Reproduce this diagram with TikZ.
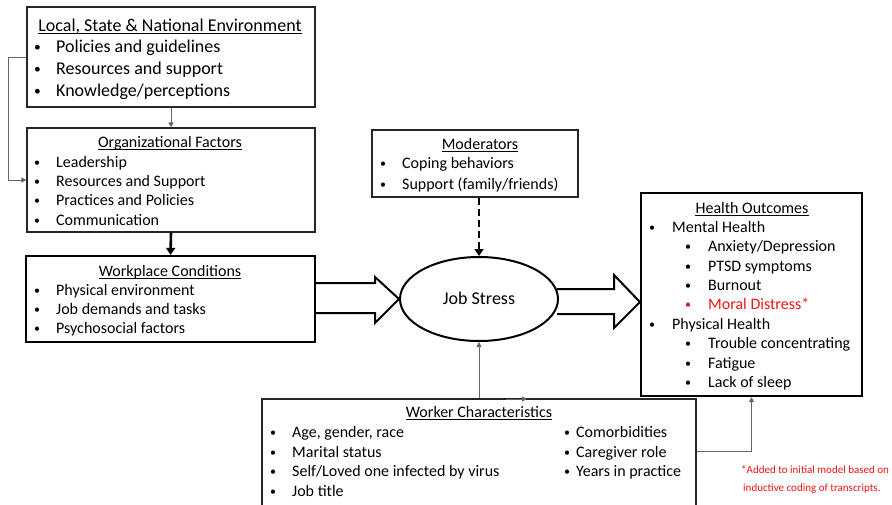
\documentclass[tikz,border=0pt]{standalone}
\usepackage{fontspec}
\setmainfont{Carlito}
\usetikzlibrary{arrows.meta,shapes.geometric}
\definecolor{noteRed}{RGB}{240,20,20}
\tikzset{
 f18/.style={font=\fontsize{18}{20}\selectfont,text height=12.6pt,text depth=1.8pt},
 f16/.style={font=\fontsize{16}{18}\selectfont,text height=11.2pt,text depth=1.6pt},
 f11/.style={font=\fontsize{11}{13}\selectfont,text height=7.7pt,text depth=1.1pt},
 lbl/.style={inner sep=0pt,anchor=west,yshift=-0.8pt},
 ttl/.style={inner sep=0pt,anchor=center,yshift=-0.8pt},
 uline/.style={draw=black,line width=0.9pt},
 thinbox/.style={draw=black!85,line width=1.1pt,inner sep=0pt},
 thickbox/.style={draw=black,line width=2.2pt,inner sep=0pt},
 conn/.style={draw=black!60,line width=0.9pt,-{Triangle[length=5pt,width=5pt]}},
 boldconn/.style={draw=black,line width=2.6pt,-{Triangle[length=7pt,width=9pt]}},
 blockarrow/.style={draw=black,line width=2pt,line join=miter},
}
\newcommand\bdot{\raisebox{0.06em}{\scalebox{0.75}{\textbullet}}}
\newcommand\bl[6]{%
 \node[lbl,#2] (#1b) at (#3,#5) {\bdot};
 \node[lbl,#2] (#1) at (#4,#5) {#6};}
\begin{document}
\begin{tikzpicture}[x=1pt,y=-1pt]
\useasboundingbox (0,0) rectangle (892,504);
\clip (0,0) rectangle (892,504);

% boxes
\node[thinbox,minimum width=288pt,minimum height=100pt] (env) at (171,57) {};
\node[thinbox,minimum width=288pt,minimum height=104pt] (org) at (171,180) {};
\node[thickbox,minimum width=289pt,minimum height=86pt] (work) at (170.5,299) {};
\node[thinbox,minimum width=206pt,minimum height=67pt] (mod) at (475,163.5) {};
\node[draw,line width=2pt,ellipse,minimum width=158pt,minimum height=84pt,inner sep=0pt,f18] (js) at (479,299) {Job Stress};
\node[thickbox,minimum width=221pt,minimum height=203pt] (health) at (751.5,294.5) {};
\node[thinbox,minimum width=434pt,minimum height=131pt] (worker) at (479,464.5) {};

% block arrows
\draw[blockarrow] (work.east |- 0,283) -- (375,283) -- (375,277) -- (js.west) -- (375,323) -- (375,313) -- (work.east |- 0,313);
\draw[blockarrow] (557,289) -- (614,289) -- (614,275) -- (health.west |- 0,302) -- (614,328) -- (614,314) -- (557,314);

% connectors
\draw[conn] (env.south) -- (org.north);
\draw[conn] (env.west) -- ++(-18,0) |- (org.west);
\draw[boldconn] (org.south) -- (work.north);
\draw[boldconn,dash pattern=on 7pt off 4pt] (mod.south -| js.north) -- (js.north);
\draw[conn] (worker.north -| js.south) -- (js.south);
\draw[conn] (worker.east |- 0,451) -| (health.south);
\coordinate (wk) at (506,399);
\draw[conn] (wk) -- (527,399);

% env text
\node[ttl,f18] (envt) at (170,25) {Local, State \& National Environment};
\draw[uline] (envt.south west) -- (envt.south east);
\bl{e1}{f18}{34}{56}{46}{Policies and guidelines}
\bl{e2}{f18}{34}{56}{68}{Resources and support}
\bl{e3}{f18}{34}{56}{90}{Knowledge/perceptions}

% org text
\node[ttl,f16] (orgt) at (170,142) {Organizational Factors};
\draw[uline] (orgt.south west) -- (orgt.south east);
\bl{o1}{f16}{34}{56}{162}{Leadership}
\bl{o2}{f16}{34}{56}{181}{Resources and Support}
\bl{o3}{f16}{34}{56}{200}{Practices and Policies}
\bl{o4}{f16}{34}{56}{220}{Communication}

% workplace text
\node[ttl,f16] (workt) at (170,271) {Workplace Conditions};
\draw[uline] (workt.south west) -- (workt.south east);
\bl{w1}{f16}{34}{56}{290}{Physical environment}
\bl{w2}{f16}{34}{56}{309}{Job demands and tasks}
\bl{w3}{f16}{34}{56}{328}{Psychosocial factors}

% moderators text
\node[ttl,f16] (modt) at (480,144) {Moderators};
\draw[uline] (modt.south west) -- (modt.south east);
\bl{m1}{f16}{380}{402}{163}{Coping behaviors}
\bl{m2}{f16}{380}{402}{184}{Support (family/friends)}

% health text
\node[ttl,f16] (healtht) at (752,208) {Health Outcomes};
\draw[uline] (healtht.south west) -- (healtht.south east);
\bl{h1}{f16}{649}{672}{227}{Mental Health}
\bl{h2}{f16}{685}{708}{246}{Anxiety/Depression}
\bl{h3}{f16}{685}{708}{266}{PTSD symptoms}
\bl{h4}{f16}{685}{708}{285}{Burnout}
\bl{h5}{f16,text=noteRed}{685}{708}{304}{Moral Distress*}
\bl{h6}{f16}{649}{672}{324}{Physical Health}
\bl{h7}{f16}{685}{708}{343}{Trouble concentrating}
\bl{h8}{f16}{685}{708}{363}{Fatigue}
\bl{h9}{f16}{685}{708}{382}{Lack of sleep}

% worker text
\node[ttl,f16] (workert) at (479,412) {Worker Characteristics};
\draw[uline] (workert.south west) -- (workert.south east);
\bl{k1}{f16}{270}{292}{432}{Age, gender, race}
\bl{k2}{f16}{270}{292}{452}{Marital status}
\bl{k3}{f16}{270}{292}{471}{Self/Loved one infected by virus}
\bl{k4}{f16}{270}{292}{491}{Job title}
\bl{k5}{f16}{564}{576}{432}{Comorbidities}
\bl{k6}{f16}{564}{576}{452}{Caregiver role}
\bl{k7}{f16}{564}{576}{471}{Years in practice}

% note
\node[lbl,f11,text=noteRed] (note1) at (741,469) {*Added to initial model based on};
\node[lbl,f11,text=noteRed] (note2) at (743,487) {inductive coding of transcripts.};
\end{tikzpicture}
\end{document}
